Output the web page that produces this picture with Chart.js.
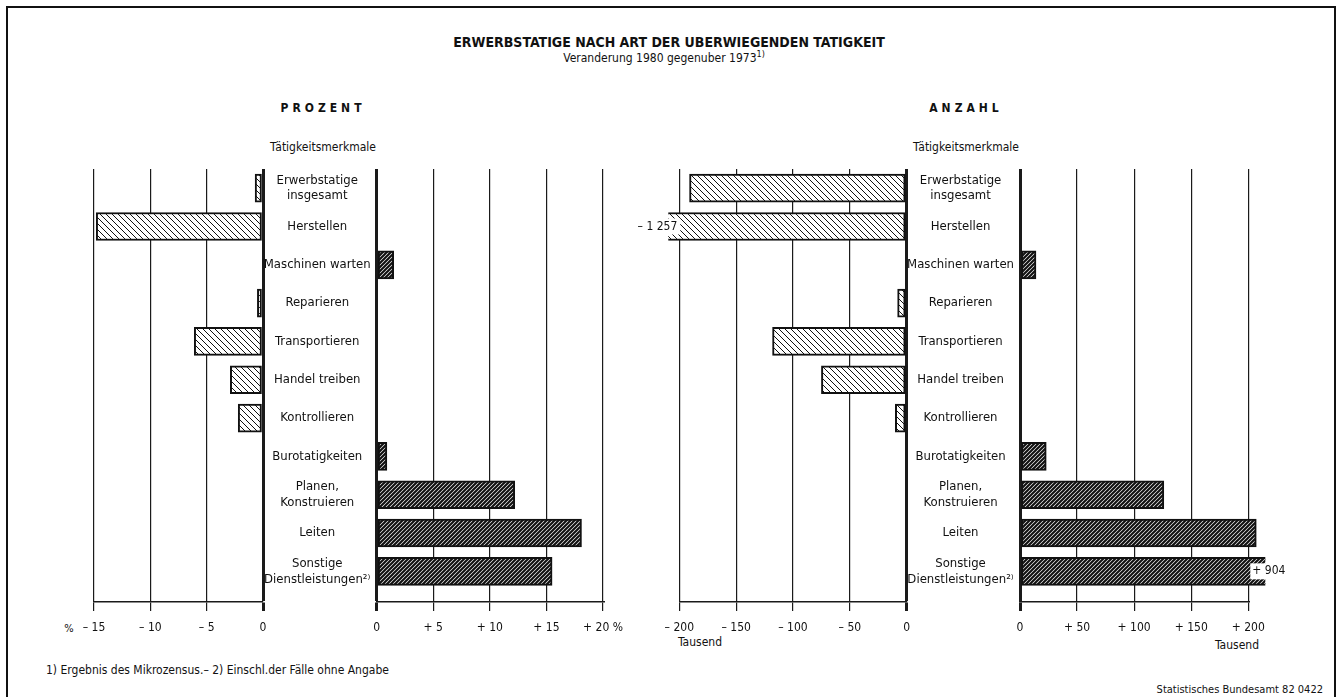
<!DOCTYPE html>
<html>
<head>
<meta charset="utf-8">
<script src="https://cdn.jsdelivr.net/npm/chart.js@4.4.0/dist/chart.umd.min.js"></script>
<style>
    body { margin: 0; background: #fff; }
    #page { position: relative; width: 1342px; height: 697px; overflow: hidden; background: #fff;
        font-family: "Liberation Sans Narrow", "DejaVu Sans Condensed", "Liberation Sans", sans-serif; color: #111; }
    #frame { position: absolute; left: 6px; top: 6px; width: 1326px; height: 720px; border: 2px solid #111; }
    canvas { position: absolute; }
    .t { position: absolute; white-space: nowrap; line-height: 1; }
    .c { transform: translate(-50%, -50%); }
    .l { transform: translate(0, -50%); }
    .r { transform: translate(-100%, -50%); }
    sup { font-size: 9px; vertical-align: 5px; }
</style>
</head>
<body>
<div id="page">
    <div id="frame"></div>
    <div class="t c" style="left:669px;top:42px;font-size:14px;font-weight:bold;">ERWERBSTATIGE NACH ART DER UBERWIEGENDEN TATIGKEIT</div>
    <div class="t c" style="left:664px;top:57px;font-size:12px;">Veranderung 1980 gegenuber 1973<sup>1)</sup></div>
    <div class="t c" style="left:323px;top:108px;font-size:12px;font-weight:bold;letter-spacing:4px;">PROZENT</div>
    <div class="t c" style="left:966px;top:108px;font-size:12px;font-weight:bold;letter-spacing:4px;">ANZAHL</div>
    <div class="t c" style="left:323px;top:147px;font-size:12px;">Tätigkeitsmerkmale</div>
    <div class="t c" style="left:966px;top:147px;font-size:12px;">Tätigkeitsmerkmale</div>
    <div class="t c" style="left:69px;top:628px;font-size:11px;">%</div>
    <div class="t l" style="left:678px;top:642px;font-size:12px;">Tausend</div>
    <div class="t r" style="left:1259px;top:645px;font-size:12px;">Tausend</div>
    <div class="t l" style="left:46px;top:670px;font-size:12px;">1) Ergebnis des Mikrozensus.– 2) Einschl.der Fälle ohne Angabe</div>
    <div class="t r" style="left:1323px;top:689px;font-size:11px;">Statistisches Bundesamt 82 0422</div>
    <canvas id="pctNeg"></canvas>
    <canvas id="pctPos"></canvas>
    <canvas id="absNeg"></canvas>
    <canvas id="absPos"></canvas>
</div>
<script>
// Tätigkeitsmerkmale
const categories = [
    ["Erwerbstatige", "insgesamt"],
    "Herstellen",
    "Maschinen warten",
    "Reparieren",
    "Transportieren",
    "Handel treiben",
    "Kontrollieren",
    "Burotatigkeiten",
    ["Planen,", "Konstruieren"],
    "Leiten",
    ["Sonstige", "Dienstleistungen²⁾"]
];
// Veränderung 1980 gegenüber 1973 in %
const prozent = [-0.7, -14.8, 1.5, -0.5, -6.1, -2.9, -2.2, 0.9, 12.2, 18.1, 15.5];
// Veränderung in Tausend
const anzahl = [-191, -1257, 14, -8, -118, -75, -10, 23, 126, 207, 904];

const prozentNegTicks = [-15, -10, -5, 0];
const prozentPosTicks = [0, 5, 10, 15, 20];
const anzahlNegTicks = [-200, -150, -100, -50, 0];
const anzahlPosTicks = [0, 50, 100, 150, 200];

const FONT = '"Liberation Sans Narrow", "DejaVu Sans Condensed", "Liberation Sans", sans-serif';
Chart.defaults.font.family = FONT;
Chart.defaults.color = '#111';

const TOP = 160, PAD_TOP = 9, AREA_H = 433, XAXIS_H = 45;

function hatchTile(dir, gap, lw, bg, fg) {
    const c = document.createElement('canvas');
    c.width = gap; c.height = gap;
    const g = c.getContext('2d');
    g.fillStyle = bg;
    g.fillRect(0, 0, gap, gap);
    g.strokeStyle = fg;
    g.lineWidth = lw;
    g.beginPath();
    if (dir > 0) {
        g.moveTo(-1, 1); g.lineTo(1, -1);
        g.moveTo(0, gap); g.lineTo(gap, 0);
        g.moveTo(gap - 1, gap + 1); g.lineTo(gap + 1, gap - 1);
    } else {
        g.moveTo(0, 0); g.lineTo(gap, gap);
        g.moveTo(-1, gap - 1); g.lineTo(1, gap + 1);
        g.moveTo(gap - 1, -1); g.lineTo(gap + 1, 1);
    }
    g.stroke();
    return c;
}

function fmtTick(v, suffix) {
    if (v === 0) return '0';
    return (v < 0 ? '– ' : '+ ') + Math.abs(v) + (suffix || '');
}

function fmtBig(v) {
    const s = String(Math.abs(v)).replace(/\B(?=(\d{3})+(?!\d))/g, ' ');
    return (v < 0 ? '– ' : '+ ') + s;
}

// Beschriftung für Balken, die weit über die Skala hinausgehen
const breakLabels = {
    id: 'breakLabels',
    afterLayout(chart) {
        // Beschriftungsspalte nicht am linken Rand der Achse abschneiden
        const y = chart.scales.y;
        if (y && y.options.display) y.left = 0;
    },
    afterDatasetsDraw(chart, args, opts) {
        if (!opts.limit) return;
        const { ctx, chartArea } = chart;
        const meta = chart.getDatasetMeta(0);
        meta.data.forEach((bar, j) => {
            const v = chart.data.datasets[0].data[j].x;
            if (Math.abs(v) <= opts.limit) return;
            const txt = fmtBig(v);
            ctx.save();
            ctx.font = '12px ' + FONT;
            const w = ctx.measureText(txt).width;
            const tx = v < 0 ? chartArea.left - 2 - w : chartArea.right + 4;
            ctx.fillStyle = '#fff';
            ctx.fillRect(tx - 2, bar.y - 8, w + 5, 16);
            ctx.fillStyle = '#111';
            ctx.textBaseline = 'middle';
            ctx.fillText(txt, tx, bar.y);
            ctx.restore();
        });
    }
};

function makePanel(id, o) {
    const cv = document.getElementById(id);
    const left = Math.floor(o.areaLeft - o.labelW - o.padL);
    const padL = o.areaLeft - o.labelW - left;
    const width = Math.ceil(padL + o.labelW + o.areaW + o.padR);
    const padR = width - padL - o.labelW - o.areaW;
    cv.width = width;
    cv.height = PAD_TOP + AREA_H + XAXIS_H;
    cv.style.left = left + 'px';
    cv.style.top = TOP + 'px';

    const ctx = cv.getContext('2d');
    const fill = o.sign < 0
        ? ctx.createPattern(hatchTile(-1, 6, 1, '#fff', '#111'), 'repeat')
        : ctx.createPattern(hatchTile(1, 4, 2.2, '#fff', '#111'), 'repeat');

    const points = o.values.map((v, i) => ({ x: v, y: i })).filter(p => o.sign * p.x > 0);
    const lastTick = o.ticks[o.ticks.length - 1];

    return new Chart(cv, {
        type: 'bar',
        data: {
            datasets: [{
                data: points,
                backgroundColor: fill,
                borderColor: '#111',
                borderWidth: 2,
                borderSkipped: false,
                barThickness: 28,
                clip: { left: o.clipL || 0, right: o.clipR || 0, top: 5, bottom: 5 }
            }]
        },
        options: {
            indexAxis: 'y',
            responsive: false,
            animation: false,
            events: [],
            layout: { padding: { left: padL, right: padR, top: PAD_TOP, bottom: 0 } },
            plugins: {
                legend: { display: false },
                tooltip: { enabled: false },
                breakLabels: { limit: o.breakAt || 0 }
            },
            scales: {
                x: {
                    type: 'linear',
                    min: o.min,
                    max: o.max,
                    afterBuildTicks: s => { s.ticks = o.ticks.map(v => ({ value: v })); },
                    afterFit: s => { s.height = XAXIS_H; s.paddingLeft = 0; s.paddingRight = 0; },
                    grid: {
                        color: '#1a1a1a',
                        lineWidth: c => (c.tick && c.tick.value === 0 ? 3 : 1.2),
                        tickLength: 9
                    },
                    border: { display: true, color: '#1a1a1a', width: 1.5 },
                    ticks: {
                        autoSkip: false,
                        maxRotation: 0,
                        padding: 10,
                        font: { size: 12 },
                        callback: v => fmtTick(v, v === lastTick ? o.suffix : '')
                    }
                },
                y: {
                    type: 'linear',
                    reverse: true,
                    offset: false,
                    min: -0.5,
                    max: 10.8,
                    display: o.labelW > 0,
                    afterBuildTicks: s => { s.ticks = categories.map((c, i) => ({ value: i })); },
                    afterFit: s => { s.width = o.labelW; s.paddingTop = 0; s.paddingBottom = 0; },
                    grid: { display: false },
                    border: { display: false },
                    ticks: {
                        autoSkip: false,
                        crossAlign: 'center',
                        padding: -2,
                        font: { size: 13, lineHeight: 1.2 },
                        callback: v => categories[v]
                    }
                }
            }
        },
        plugins: [breakLabels]
    });
}

makePanel('pctNeg', { areaLeft: 94, areaW: 169, labelW: 0, padL: 30, padR: 10,
    min: -15, max: 0, ticks: prozentNegTicks, values: prozent, sign: -1 });
makePanel('pctPos', { areaLeft: 376.7, areaW: 226.3, labelW: 113.7, padL: 20, padR: 30,
    min: 0, max: 20, ticks: prozentPosTicks, values: prozent, sign: 1, suffix: ' %' });
makePanel('absNeg', { areaLeft: 679.3, areaW: 227.4, labelW: 0, padL: 45, padR: 10,
    min: -200, max: 0, ticks: anzahlNegTicks, values: anzahl, sign: -1, clipL: 11, breakAt: 220 });
makePanel('absPos', { areaLeft: 1020, areaW: 228.3, labelW: 113.3, padL: 20, padR: 45,
    min: 0, max: 200, ticks: anzahlPosTicks, values: anzahl, sign: 1, clipR: 17, breakAt: 220 });
</script>
</body>
</html>
